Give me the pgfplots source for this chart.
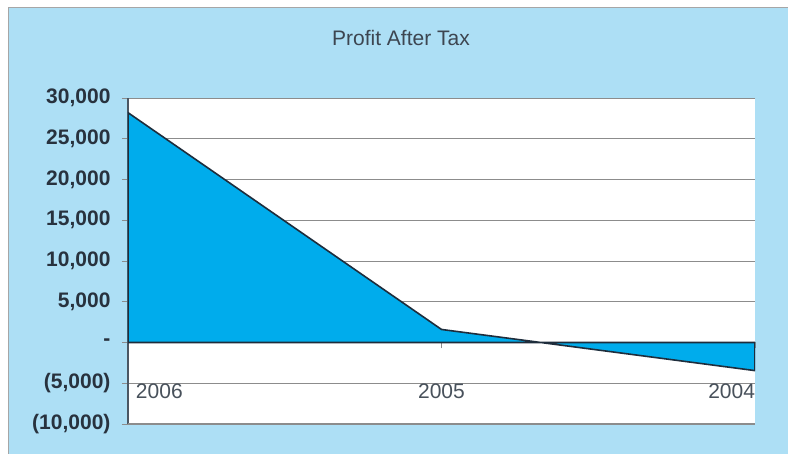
\documentclass[border=0pt]{standalone}
\usepackage{fontspec}
\setmainfont{Liberation Sans}
\usepackage{pgfplots}
\pgfplotsset{compat=1.18}
\definecolor{bg}{RGB}{173,223,245}
\definecolor{areafill}{RGB}{0,172,236}
\definecolor{edge}{RGB}{30,45,60}
\definecolor{gridc}{RGB}{140,140,140}
\definecolor{lab}{RGB}{40,50,62}
\begin{document}
\begin{tikzpicture}
\useasboundingbox (0pt,0pt) rectangle (788pt,454pt);
\fill[white] (0pt,0pt) rectangle (788pt,454pt);
\fill[bg] (8pt,0pt) rectangle (788pt,446pt);
\draw[gray!70, line width=1pt] (8pt,0pt) -- (8pt,446pt) -- (788pt,446pt);
\node[text=lab!90, font=\fontsize{21}{24}\selectfont] at (401pt,416pt) {Profit After Tax};
\begin{axis}[
  at={(128pt,30pt)}, anchor=south west,
  scale only axis, width=627pt, height=326pt,
  xmin=0, xmax=2, ymin=-10000, ymax=30000,
  scaled y ticks=false,
  axis background/.style={fill=white},
  axis x line=middle, axis y line=left,
  axis line style={-, draw=edge!80, line width=1.2pt},
  xtick={0,1,2},
  xticklabels={{\makebox[0pt][l]{\hspace{8pt}2006}},2005,{\makebox[0pt][r]{2004}}},
  xticklabel style={yshift=-32pt, text=lab!85, font=\fontsize{21}{24}\selectfont},
  ytick={-10000,-5000,0,5000,10000,15000,20000,25000,30000},
  yticklabels={{(10,000)},{(5,000)},-,{5,000},{10,000},{15,000},{20,000},{25,000},{30,000}},
  yticklabel style={text=lab, font=\fontsize{21}{24}\selectfont\bfseries, xshift=-8pt},
  tick align=outside, major tick length=6pt,
  tick style={draw=gridc, line width=0.8pt},
  ymajorgrids, grid style={draw=gridc, line width=0.9pt},
  hide obscured x ticks=false,
]
\draw[gridc, line width=1.2pt] (rel axis cs:0,0) -- (rel axis cs:1,0);
\addplot[fill=areafill, draw=edge, line width=1.6pt] coordinates {(0,28200) (1,1600) (2,-3450)} \closedcycle;
\end{axis}
\end{tikzpicture}
\end{document}
